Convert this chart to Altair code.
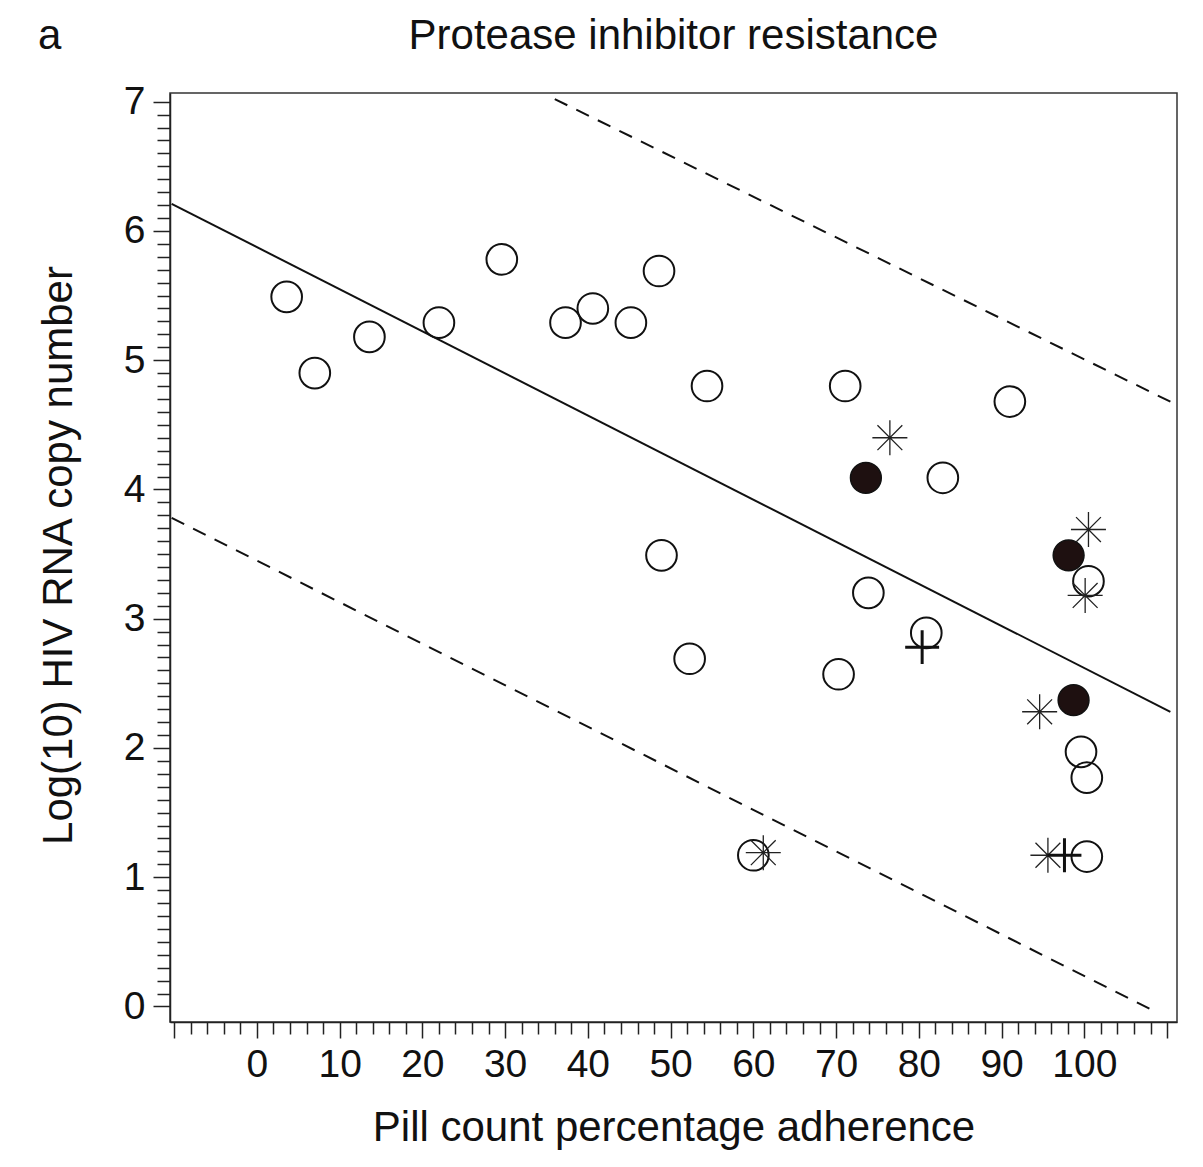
import altair as alt
import pandas as pd

# ---- data ----
open_x = [3.6, 7.0, 13.6, 22.0, 29.6, 37.3, 40.6, 45.2, 48.6, 54.4, 71.1, 91.0, 82.9,
          48.9, 73.9, 52.3, 70.3, 80.9, 100.5, 99.6, 100.3, 60.0, 100.3]
open_y = [5.49, 4.90, 5.18, 5.29, 5.78, 5.29, 5.40, 5.29, 5.69, 4.80, 4.80, 4.68, 4.09,
          3.49, 3.20, 2.69, 2.57, 2.89, 3.29, 1.97, 1.77, 1.17, 1.16]
filled_x = [73.6, 98.1, 98.7]
filled_y = [4.09, 3.49, 2.37]
star_x = [76.5, 100.5, 100.1, 94.6, 61.2, 95.6]
star_y = [4.40, 3.69, 3.18, 2.28, 1.19, 1.17]
plus_x = [80.4, 97.6]
plus_y = [2.78, 1.17]

fit_x = [-10.3, 110.4]
fit_y = [6.21, 2.28]
upper_x = [36.0, 111.0]
upper_y = [7.02, 4.66]
lower_x = [-10.3, 108.6]
lower_y = [3.78, -0.04]

title_text = "Protease inhibitor resistance"
panel_label = "a"
x_title = "Pill count percentage adherence"
y_title = "Log(10) HIV RNA copy number"

x_domain = [-10.5, 111.2]
y_domain = [-0.12, 7.067]
x_ticks = list(range(-10, 111, 2))
y_ticks = [round(i * 0.1, 1) for i in range(0, 71)]

FONT = "Liberation Sans"
W, H = 1007, 929
TITLE_SIZE = 42
LABEL_SIZE = 39

df_open = pd.DataFrame({"x": open_x, "y": open_y})
df_filled = pd.DataFrame({"x": filled_x, "y": filled_y})
df_star = pd.DataFrame({"x": star_x, "y": star_y})
df_plus = pd.DataFrame({"x": plus_x, "y": plus_y})
df_fit = pd.DataFrame({"x": fit_x, "y": fit_y})
df_upper = pd.DataFrame({"x": upper_x, "y": upper_y})
df_lower = pd.DataFrame({"x": lower_x, "y": lower_y})

x_axis = alt.Axis(
    values=x_ticks, tickCount=500,
    labelExpr="(datum.value % 10 === 0 && datum.value >= 0 && datum.value <= 100) ? format(datum.value, 'd') : ''",
    tickSize={"condition": {"test": "datum.value % 10 === 0", "value": 16}, "value": 12},
    tickColor="#222", tickWidth=1.5, domainColor="#222", domainWidth=1.5,
    labelFont=FONT, labelFontSize=LABEL_SIZE, labelColor="#111", labelPadding=7,
    labelOverlap=False, labelFlush=False, grid=False,
    title=x_title, titleFont=FONT, titleFontSize=TITLE_SIZE, titleFontWeight="normal",
    titleColor="#111", titleX=W / 2, titleY=118, titleBaseline="alphabetic",
    titleAlign="center", titleAnchor="middle",
)
y_axis = alt.Axis(
    values=y_ticks, tickCount=500,
    labelExpr="abs(datum.value - round(datum.value)) < 0.001 ? format(round(datum.value), 'd') : ''",
    tickSize={"condition": {"test": "abs(datum.value - round(datum.value)) < 0.001", "value": 17}, "value": 13},
    tickColor="#222", tickWidth=1.5, domainColor="#222", domainWidth=1.5,
    labelFont=FONT, labelFontSize=LABEL_SIZE, labelColor="#111", labelPadding=8,
    labelOverlap=False, labelFlush=False, grid=False,
    title=y_title, titleFont=FONT, titleFontSize=TITLE_SIZE, titleFontWeight="normal",
    titleColor="#111", titleX=-112, titleY=462, titleBaseline="middle",
    titleAlign="center", titleAngle=270,
)

xs = alt.Scale(domain=x_domain, nice=False, zero=False)
ys = alt.Scale(domain=y_domain, nice=False, zero=False)

def enc(base, axes=False):
    if axes:
        return base.encode(
            x=alt.X("x:Q", scale=xs, axis=x_axis),
            y=alt.Y("y:Q", scale=ys, axis=y_axis),
        )
    return base.encode(
        x=alt.X("x:Q", scale=xs),
        y=alt.Y("y:Q", scale=ys),
    )

fit = enc(alt.Chart(df_fit).mark_line(color="#111", strokeWidth=2, clip=True), axes=True)
upper = enc(alt.Chart(df_upper).mark_line(color="#111", strokeWidth=2, strokeDash=[14, 10], clip=True))
lower = enc(alt.Chart(df_lower).mark_line(color="#111", strokeWidth=2, strokeDash=[14, 10], clip=True))

opens = enc(alt.Chart(df_open).mark_point(shape="circle", filled=False, size=940,
                                          stroke="#111", strokeWidth=2, opacity=1))
filled = enc(alt.Chart(df_filled).mark_point(shape="circle", filled=True, size=950,
                                             fill="#1e1010", stroke="#111", strokeWidth=1.5, opacity=1))
STAR = "M-1,0L1,0M0,-1L0,1M-0.71,-0.71L0.71,0.71M-0.71,0.71L0.71,-0.71"
stars = enc(alt.Chart(df_star).mark_point(shape=STAR, filled=False, size=1225,
                                          stroke="#222", strokeWidth=1.3, opacity=1))
PLUS = "M-1,0L1,0M0,-1L0,1"
pluses = enc(alt.Chart(df_plus).mark_point(shape=PLUS, filled=False, size=1150,
                                           stroke="#111", strokeWidth=3, opacity=1))

df_title = pd.DataFrame({"t": [title_text]})
title = alt.Chart(df_title).mark_text(font=FONT, fontSize=TITLE_SIZE, color="#111",
                                      align="center", baseline="alphabetic").encode(
    text="t:N", x=alt.value(W / 2), y=alt.value(-44))
df_label = pd.DataFrame({"t": [panel_label]})
label = alt.Chart(df_label).mark_text(font=FONT, fontSize=TITLE_SIZE, color="#111",
                                      align="left", baseline="alphabetic").encode(
    text="t:N", x=alt.value(-132), y=alt.value(-44))

chart = alt.layer(fit, upper, lower, opens, filled, stars, pluses, title, label).properties(
    width=W, height=H,
    autosize=alt.AutoSizeParams(type="none"),
    padding={"left": 162, "top": 85, "right": 18, "bottom": 137},
    background="white",
).configure_view(stroke="#333", strokeWidth=1.5)

chart.save("out.html", embed_options={"renderer": "svg", "actions": False})
